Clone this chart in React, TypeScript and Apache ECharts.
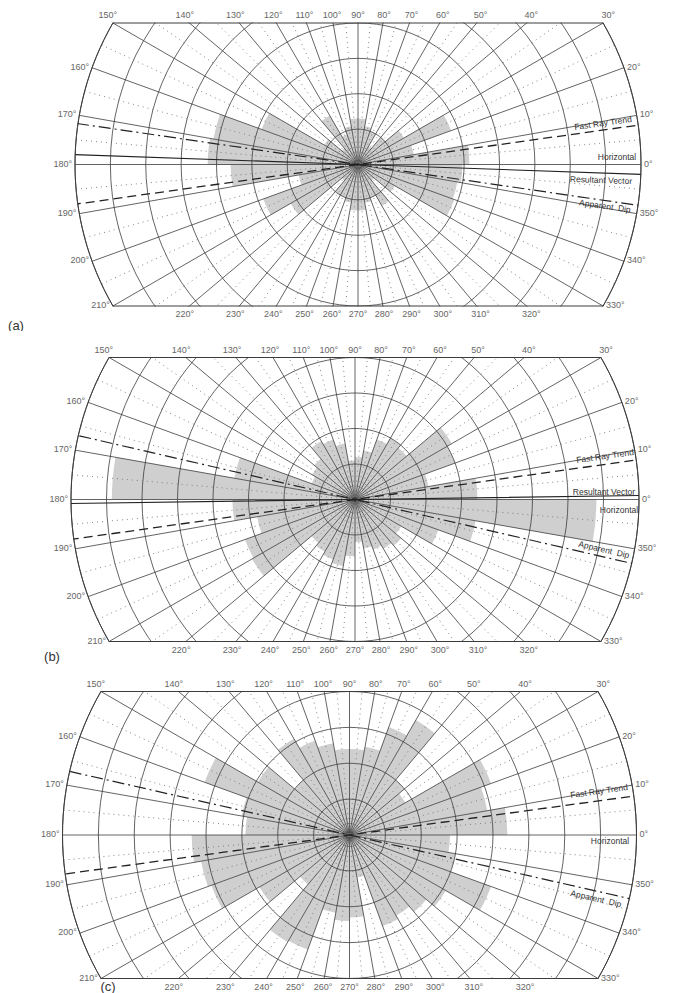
import React, { useEffect, useRef } from "react";
import * as echarts from "echarts";

// 10-degree bins, counter-clockwise from 0° (east)
const binCategories = [
  "0", "10", "20", "30", "40", "50", "60", "70", "80", "90", "100", "110",
  "120", "130", "140", "150", "160", "170", "180", "190", "200", "210", "220", "230",
  "240", "250", "260", "270", "280", "290", "300", "310", "320", "330", "340", "350",
];

// rose radii in ring units (8 rings to the outer circle)
const roseA = [
  3.15, 1.6, 2.8, 1.5, 1.0, 0.6, 1.0, 1.1, 1.3, 1.3, 1.1, 0.9,
  1.6, 0.6, 1.1, 2.9, 4.15, 4.25, 3.6, 1.7, 2.85, 2.2, 0.6, 1.0,
  1.0, 1.1, 1.3, 1.3, 1.1, 1.0, 1.35, 0.6, 1.2, 2.9, 2.85, 2.95,
];
const roseB = [
  3.45, 2.1, 3.0, 3.15, 1.9, 2.0, 1.8, 1.4, 1.2, 1.1, 1.6, 1.8,
  1.9, 1.5, 1.4, 1.3, 3.45, 6.85, 3.45, 2.8, 3.3, 3.35, 1.6, 1.7,
  1.8, 1.9, 1.6, 1.2, 1.4, 1.5, 1.6, 1.7, 1.5, 2.5, 3.45, 6.8,
];
const roseC = [
  4.4, 3.9, 4.2, 1.8, 2.0, 3.7, 3.2, 2.5, 2.4, 2.4, 2.6, 2.8,
  3.1, 2.0, 2.95, 4.3, 3.05, 2.9, 4.4, 4.2, 4.1, 2.9, 1.8, 3.45,
  3.4, 2.2, 2.4, 2.3, 1.2, 2.7, 2.6, 2.8, 3.1, 4.2, 3.0, 2.8,
];

// boundary tick labels (degrees)
const topTicks = [150, 140, 130, 120, 110, 100, 90, 80, 70, 60, 50, 40, 30];
const leftTicks = [160, 170, 180, 190, 200, 210];
const rightTicks = [20, 10, 0, 350, 340, 330];
const bottomTicks = [220, 230, 240, 250, 260, 270, 280, 290, 300, 310, 320];

// trend directions (degrees)
const fastRayAngles = [8.0, 8.0, 7.8];
const apparentDipAngles = [351.7, 347.0, 347.2];
const resultantAngles: (number | null)[] = [358.0, 0.8, null];

type LineLabel = { text: string; x: number; y: number; rot: number };
type Panel = {
  top: number;
  height: number;
  cx: number;
  cy: number;
  R: number;
  rose: number[];
  fast: number;
  dip: number;
  resultant: number | null;
  fastExt: [number, number];
  dipExt: [number, number];
  resExt: [number, number];
  horizExt: [number, number];
  labels: LineLabel[];
  tag: { text: string; x: number; y: number };
};

const panels: Panel[] = [
  {
    top: 0, height: 331, cx: 358, cy: 164.5, R: 283, rose: roseA,
    fast: fastRayAngles[0], dip: apparentDipAngles[0], resultant: resultantAngles[0],
    fastExt: [303, 303], dipExt: [306, 321], resExt: [309, 313], horizExt: [328, 330],
    labels: [
      { text: "Fast Ray Trend", x: 603, y: 123, rot: 8 },
      { text: "Horizontal", x: 617, y: 157, rot: 0 },
      { text: "Resultant Vector", x: 601, y: 180, rot: -2 },
      { text: "Apparent  Dip", x: 605, y: 206, rot: -8.3 },
    ],
    tag: { text: "(a)", x: 16, y: 325 },
  },
  {
    top: 331, height: 334, cx: 355, cy: 168.5, R: 284, rose: roseB,
    fast: fastRayAngles[1], dip: apparentDipAngles[1], resultant: resultantAngles[1],
    fastExt: [330, 335], dipExt: [327, 321], resExt: [337, 331], horizExt: [337, 331],
    labels: [
      { text: "Fast Ray Trend", x: 605, y: 125, rot: 8 },
      { text: "Resultant Vector", x: 604, y: 160.5, rot: 0 },
      { text: "Horizontal", x: 619, y: 178.5, rot: 0 },
      { text: "Apparent  Dip", x: 604, y: 218.5, rot: -13 },
    ],
    tag: { text: "(b)", x: 52, y: 325 },
  },
  {
    top: 665, height: 328, cx: 349.5, cy: 170, R: 287, rose: roseC,
    fast: fastRayAngles[2], dip: apparentDipAngles[2], resultant: resultantAngles[2],
    fastExt: [328, 324], dipExt: [331, 327], resExt: [0, 0], horizExt: [342, 337],
    labels: [
      { text: "Fast Ray Trend", x: 599, y: 126, rot: 8 },
      { text: "Horizontal", x: 610, y: 175.5, rot: 0 },
      { text: "Apparent  Dip", x: 596, y: 233.5, rot: -12.8 },
    ],
    tag: { text: "(c)", x: 108, y: 321 },
  },
];

const rad = (d: number) => (d * Math.PI) / 180;
const TICK_FONT = '9px "Liberation Sans", Arial, sans-serif';
const LINE_FONT = '8.5px "Liberation Sans", Arial, sans-serif';

function throughCenter(angle: number, ext: [number, number], unit: number) {
  return [
    [ext[0] / unit, (angle + 180) % 360],
    [0, angle],
    [ext[1] / unit, angle],
  ];
}

function buildOption(p: Panel): any {
  const unit = p.R / 8;
  const H = p.R / 2;
  const gridColor = "#3c3c3c";
  const lineBase = {
    type: "line",
    coordinateSystem: "polar",
    polarIndex: 0,
    symbol: "none",
    silent: true,
    clip: false,
    z: 6,
  };
  const series: any[] = [
    {
      type: "bar",
      coordinateSystem: "polar",
      polarIndex: 1,
      data: p.rose,
      barCategoryGap: "0%",
      itemStyle: { color: "#cfcfcf" },
      silent: true,
      z: 1,
    },
    {
      ...lineBase,
      data: throughCenter(p.fast, p.fastExt, unit),
      lineStyle: { color: "#222", width: 1.3, type: [9, 5] },
    },
    {
      ...lineBase,
      data: throughCenter(p.dip, p.dipExt, unit),
      lineStyle: { color: "#222", width: 1.2, type: [12, 4, 2, 4] },
    },
    {
      ...lineBase,
      data: [[8, 0], [p.horizExt[1] / unit, 0]],
      lineStyle: { color: "#222", width: 1, type: [12, 4, 2, 4] },
    },
    {
      ...lineBase,
      data: [[8, 180], [p.horizExt[0] / unit, 180]],
      lineStyle: { color: "#222", width: 1, type: [12, 4, 2, 4] },
    },
  ];
  if (p.resultant !== null) {
    series.push({
      ...lineBase,
      data: throughCenter(p.resultant, p.resExt, unit),
      lineStyle: { color: "#222", width: 1.1, type: "solid" },
    });
  }

  const elements: any[] = [];
  // masks outside the band
  elements.push({
    type: "rect", silent: true, z: 100,
    shape: { x: 0, y: 0, width: 686, height: p.cy - H - 0.5 },
    style: { fill: "#ffffff" },
  });
  elements.push({
    type: "rect", silent: true, z: 100,
    shape: { x: 0, y: p.cy + H + 0.5, width: 686, height: p.height },
    style: { fill: "#ffffff" },
  });
  const cx30 = p.R * Math.cos(rad(30));
  elements.push({
    type: "line", silent: true, z: 101,
    shape: { x1: p.cx - cx30, y1: p.cy - H, x2: p.cx + cx30, y2: p.cy - H },
    style: { stroke: gridColor, lineWidth: 1 },
  });
  elements.push({
    type: "line", silent: true, z: 101,
    shape: { x1: p.cx - cx30, y1: p.cy + H, x2: p.cx + cx30, y2: p.cy + H },
    style: { stroke: gridColor, lineWidth: 1 },
  });
  const tickText = (t: number, x: number, y: number, align: string) => ({
    type: "text", silent: true, z: 102, x, y,
    style: {
      text: `${t}°`, fill: "#666", font: TICK_FONT,
      align, verticalAlign: "middle",
    },
  });
  topTicks.forEach((t) => {
    const x = p.cx + (H * Math.cos(rad(t))) / Math.sin(rad(t)) + 6 * Math.cos(rad(t));
    elements.push(tickText(t, x, p.cy - H - 8, "center"));
  });
  bottomTicks.forEach((t) => {
    const x = p.cx + (H * Math.cos(rad(t))) / -Math.sin(rad(t)) + 6 * Math.cos(rad(t));
    elements.push(tickText(t, x, p.cy + H + 8, "center"));
  });
  leftTicks.forEach((t) => {
    const x = p.cx + p.R * Math.cos(rad(t)) - 3;
    const y = p.cy - p.R * Math.sin(rad(t)) - 1;
    elements.push(tickText(t, x, y, "right"));
  });
  rightTicks.forEach((t) => {
    const x = p.cx + p.R * Math.cos(rad(t)) + 3;
    const y = p.cy - p.R * Math.sin(rad(t)) - 1;
    elements.push(tickText(t, x, y, "left"));
  });
  p.labels.forEach((l) => {
    elements.push({
      type: "text", silent: true, z: 102, x: l.x, y: l.y, rotation: rad(l.rot),
      style: {
        text: l.text, fill: "#333", font: LINE_FONT,
        align: "center", verticalAlign: "middle",
      },
    });
  });
  elements.push({
    type: "text", silent: true, z: 102, x: p.tag.x, y: p.tag.y,
    style: {
      text: p.tag.text, fill: "#333", font: '13px "Liberation Sans", Arial, sans-serif',
      align: "center", verticalAlign: "middle",
    },
  });

  return {
    animation: false,
    backgroundColor: "#ffffff",
    polar: [
      { center: [p.cx, p.cy], radius: p.R },
      { center: [p.cx, p.cy], radius: p.R },
    ],
    angleAxis: [
      {
        polarIndex: 0, type: "value", min: 0, max: 360, interval: 10,
        startAngle: 0, clockwise: false, z: 5,
        axisLine: { show: true, lineStyle: { color: gridColor, width: 1 } },
        axisTick: { show: false },
        axisLabel: { show: false },
        splitLine: { show: true, lineStyle: { color: gridColor, width: 0.8 } },
        minorTick: { show: false, splitNumber: 2 },
        minorSplitLine: { show: true, lineStyle: { color: "#777", width: 0.9, type: [1, 4] } },
      },
      {
        polarIndex: 1, type: "category", data: binCategories, boundaryGap: true,
        startAngle: 0, clockwise: false,
        axisLine: { show: false }, axisTick: { show: false },
        axisLabel: { show: false }, splitLine: { show: false },
      },
    ],
    radiusAxis: [
      {
        polarIndex: 0, type: "value", min: 0, max: 8, interval: 1, z: 5,
        axisLine: { show: false }, axisTick: { show: false }, axisLabel: { show: false },
        splitLine: { show: true, lineStyle: { color: gridColor, width: 0.8 } },
      },
      {
        polarIndex: 1, type: "value", min: 0, max: 8,
        axisLine: { show: false }, axisTick: { show: false }, axisLabel: { show: false },
        splitLine: { show: false },
      },
    ],
    series,
    graphic: { elements },
  };
}

function PanelChart({ p }: { p: Panel }) {
  const ref = useRef<HTMLDivElement>(null);
  useEffect(() => {
    if (!ref.current) return;
    const chart = echarts.init(ref.current, undefined, { renderer: "svg" });
    chart.setOption(buildOption(p));
    return () => chart.dispose();
  }, [p]);
  return (
    <div
      ref={ref}
      style={{ position: "absolute", left: 0, top: p.top, width: 686, height: p.height }}
    />
  );
}

export default function App() {
  return (
    <div
      style={{
        position: "absolute", left: 0, top: 0, width: 686, height: 993,
        background: "#ffffff", overflow: "hidden",
      }}
    >
      {panels.map((p, i) => (
        <PanelChart key={i} p={p} />
      ))}
    </div>
  );
}
